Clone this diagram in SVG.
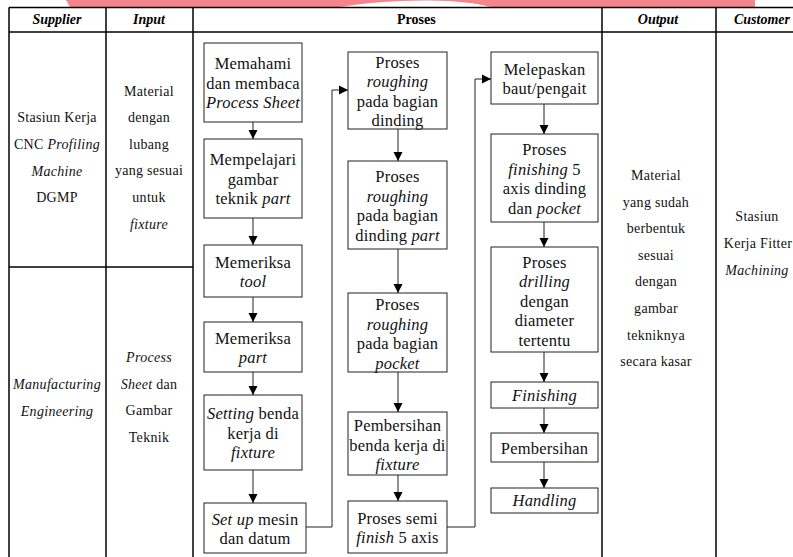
<svg xmlns="http://www.w3.org/2000/svg" width="793" height="557" viewBox="0 0 793 557" font-family="'Liberation Serif', serif">
<style>
  .grid{stroke:#000;stroke-width:1.5;fill:none}
  .box{fill:#fff;stroke:#222;stroke-width:1}
  .hd{font-family:'Liberation Serif',serif;font-size:14px;font-weight:bold;font-style:italic;text-anchor:middle;fill:#000}
  .cell{font-family:'Liberation Serif',serif;font-size:14px;text-anchor:middle;letter-spacing:0.3px;fill:#111}
  .t{font-family:'Liberation Serif',serif;font-size:16.5px;letter-spacing:0.2px;text-anchor:middle;fill:#111}
  .i{font-style:italic}
  .conn{stroke:#222;stroke-width:1;fill:none}
</style>
<defs>
  <marker id="ah" markerWidth="10" markerHeight="10" refX="9" refY="5" orient="auto" markerUnits="userSpaceOnUse">
    <path d="M0,0.5 L9,5 L0,9.5 Z" fill="#000"/>
  </marker>
</defs>
<rect width="793" height="557" fill="#fff"/>
<!-- logo fragment at the top edge -->
<path d="M66,0 H755 V7 H490 Q470,1 430,0.5 Q380,0 340,7 H70 Z" fill="#f4858a"/>

<!-- table grid -->
<g id="table" class="grid">
  <line x1="9" y1="7.5" x2="793" y2="7.5"/>
  <line x1="9" y1="32" x2="793" y2="32"/>
  <line x1="9" y1="7.5" x2="9" y2="557"/>
  <line x1="106" y1="7.5" x2="106" y2="557"/>
  <line x1="193" y1="7.5" x2="193" y2="557"/>
  <line x1="602" y1="7.5" x2="602" y2="557"/>
  <line x1="716" y1="7.5" x2="716" y2="557"/>
  <line x1="9" y1="267" x2="193" y2="267"/>
</g>

<!-- header -->
<g id="header">
  <text class="hd" x="57" y="24">Supplier</text>
  <text class="hd" x="149" y="24">Input</text>
  <text class="hd" x="397" y="24" style="font-style:normal;text-anchor:start">Proses</text>
  <text class="hd" x="658" y="24">Output</text>
  <text class="hd" x="734" y="24" style="text-anchor:start">Customer</text>
</g>

<!-- supplier / input / output / customer cells -->
<g id="supplier-1" class="cell">
  <text x="57" y="122">Stasiun Kerja</text>
  <text x="57" y="149">CNC <tspan class="i">Profiling</tspan></text>
  <text x="57" y="176" class="i">Machine</text>
  <text x="57" y="202">DGMP</text>
</g>
<g id="input-1" class="cell">
  <text x="149" y="96">Material</text>
  <text x="149" y="122">dengan</text>
  <text x="149" y="149">lubang</text>
  <text x="149" y="175">yang sesuai</text>
  <text x="149" y="202">untuk</text>
  <text x="149" y="229" class="i">fixture</text>
</g>
<g id="supplier-2" class="cell">
  <text x="57" y="389" class="i">Manufacturing</text>
  <text x="57" y="416" class="i">Engineering</text>
</g>
<g id="input-2" class="cell">
  <text x="149" y="362" class="i">Process</text>
  <text x="149" y="389"><tspan class="i">Sheet</tspan> dan</text>
  <text x="149" y="415">Gambar</text>
  <text x="149" y="442">Teknik</text>
</g>
<g id="output" class="cell">
  <text x="656" y="180">Material</text>
  <text x="656" y="207">yang sudah</text>
  <text x="656" y="233">berbentuk</text>
  <text x="656" y="260">sesuai</text>
  <text x="656" y="286">dengan</text>
  <text x="656" y="313">gambar</text>
  <text x="656" y="340">tekniknya</text>
  <text x="656" y="366">secara kasar</text>
</g>
<g id="customer" class="cell">
  <text x="757" y="221">Stasiun</text>
  <text x="758" y="248">Kerja Fitter</text>
  <text x="757" y="275" class="i">Machining</text>
</g>

<!-- connectors -->
<g id="connectors" class="conn">
  <path d="M253,122 V139" marker-end="url(#ah)"/>
  <path d="M253,218 V245" marker-end="url(#ah)"/>
  <path d="M253,297 V322" marker-end="url(#ah)"/>
  <path d="M253,372 V395" marker-end="url(#ah)"/>
  <path d="M253,470 V503" marker-end="url(#ah)"/>
  <path d="M306,527 H332 V90 H348" marker-end="url(#ah)"/>
  <path d="M398,129 V161" marker-end="url(#ah)"/>
  <path d="M398,249 V293" marker-end="url(#ah)"/>
  <path d="M398,372 V412" marker-end="url(#ah)"/>
  <path d="M398,475 V501" marker-end="url(#ah)"/>
  <path d="M447,527 H475 V79 H491" marker-end="url(#ah)"/>
  <path d="M544,104 V134" marker-end="url(#ah)"/>
  <path d="M544,222 V247" marker-end="url(#ah)"/>
  <path d="M544,352 V382" marker-end="url(#ah)"/>
  <path d="M544,408 V433" marker-end="url(#ah)"/>
  <path d="M544,462 V488" marker-end="url(#ah)"/>
</g>

<!-- process column 1 -->
<g id="p1">
  <rect class="box" x="204" y="43" width="98" height="79"/>
  <text class="t" x="253" y="69">Memahami</text>
  <text class="t" x="253" y="88.5">dan membaca</text>
  <text class="t i" x="253" y="108">Process Sheet</text>
</g>
<g id="p2">
  <rect class="box" x="204" y="139" width="98" height="79"/>
  <text class="t" x="253" y="165">Mempelajari</text>
  <text class="t" x="253" y="184.5">gambar</text>
  <text class="t" x="253" y="204">teknik <tspan class="i">part</tspan></text>
</g>
<g id="p3">
  <rect class="box" x="204" y="245" width="98" height="52"/>
  <text class="t" x="253" y="267.5">Memeriksa</text>
  <text class="t i" x="253" y="287">tool</text>
</g>
<g id="p4">
  <rect class="box" x="204" y="322" width="98" height="50"/>
  <text class="t" x="253" y="343.5">Memeriksa</text>
  <text class="t i" x="253" y="363">part</text>
</g>
<g id="p5">
  <rect class="box" x="204" y="395" width="98" height="75"/>
  <text class="t" x="253" y="419"><tspan class="i">Setting</tspan> benda</text>
  <text class="t" x="253" y="438.5">kerja di</text>
  <text class="t i" x="253" y="458">fixture</text>
</g>
<g id="p6">
  <rect class="box" x="204" y="503" width="102" height="50"/>
  <text class="t" x="255" y="524.5"><tspan class="i">Set up</tspan> mesin</text>
  <text class="t" x="255" y="544">dan datum</text>
</g>

<!-- process column 2 -->
<g id="p7">
  <rect class="box" x="348" y="52" width="99" height="77"/>
  <text class="t" x="397.5" y="67.5">Proses</text>
  <text class="t i" x="397.5" y="87">roughing</text>
  <text class="t" x="397.5" y="106.5">pada bagian</text>
  <text class="t" x="397.5" y="126">dinding</text>
</g>
<g id="p8">
  <rect class="box" x="348" y="161" width="99" height="88"/>
  <text class="t" x="397.5" y="182">Proses</text>
  <text class="t i" x="397.5" y="201.5">roughing</text>
  <text class="t" x="397.5" y="221">pada bagian</text>
  <text class="t" x="397.5" y="240.5">dinding <tspan class="i">part</tspan></text>
</g>
<g id="p9">
  <rect class="box" x="348" y="293" width="99" height="79"/>
  <text class="t" x="397.5" y="310">Proses</text>
  <text class="t i" x="397.5" y="329.5">roughing</text>
  <text class="t" x="397.5" y="349">pada bagian</text>
  <text class="t i" x="397.5" y="368.5">pocket</text>
</g>
<g id="p10">
  <rect class="box" x="348" y="412" width="99" height="63"/>
  <text class="t" x="397.5" y="431">Pembersihan</text>
  <text class="t" x="397.5" y="450.5">benda kerja di</text>
  <text class="t i" x="397.5" y="470">fixture</text>
</g>
<g id="p11">
  <rect class="box" x="348" y="501" width="99" height="52"/>
  <text class="t" x="397.5" y="523.5">Proses semi</text>
  <text class="t" x="397.5" y="543"><tspan class="i">finish</tspan> 5 axis</text>
</g>

<!-- process column 3 -->
<g id="p12">
  <rect class="box" x="491" y="52" width="107" height="52"/>
  <text class="t" x="544.5" y="74.5">Melepaskan</text>
  <text class="t" x="544.5" y="94">baut/pengait</text>
</g>
<g id="p13">
  <rect class="box" x="491" y="134" width="107" height="88"/>
  <text class="t" x="544.5" y="155">Proses</text>
  <text class="t" x="544.5" y="174.5"><tspan class="i">finishing</tspan> 5</text>
  <text class="t" x="544.5" y="194">axis dinding</text>
  <text class="t" x="544.5" y="213.5">dan <tspan class="i">pocket</tspan></text>
</g>
<g id="p14">
  <rect class="box" x="491" y="247" width="107" height="105"/>
  <text class="t" x="544.5" y="267.5">Proses</text>
  <text class="t i" x="544.5" y="287">drilling</text>
  <text class="t" x="544.5" y="306.5">dengan</text>
  <text class="t" x="544.5" y="326">diameter</text>
  <text class="t" x="544.5" y="345.5">tertentu</text>
</g>
<g id="p15">
  <rect class="box" x="491" y="382" width="107" height="26"/>
  <text class="t i" x="544.5" y="401">Finishing</text>
</g>
<g id="p16">
  <rect class="box" x="491" y="433" width="107" height="29"/>
  <text class="t" x="544.5" y="453.5">Pembersihan</text>
</g>
<g id="p17">
  <rect class="box" x="491" y="488" width="107" height="25"/>
  <text class="t i" x="544.5" y="506">Handling</text>
</g>
</svg>
